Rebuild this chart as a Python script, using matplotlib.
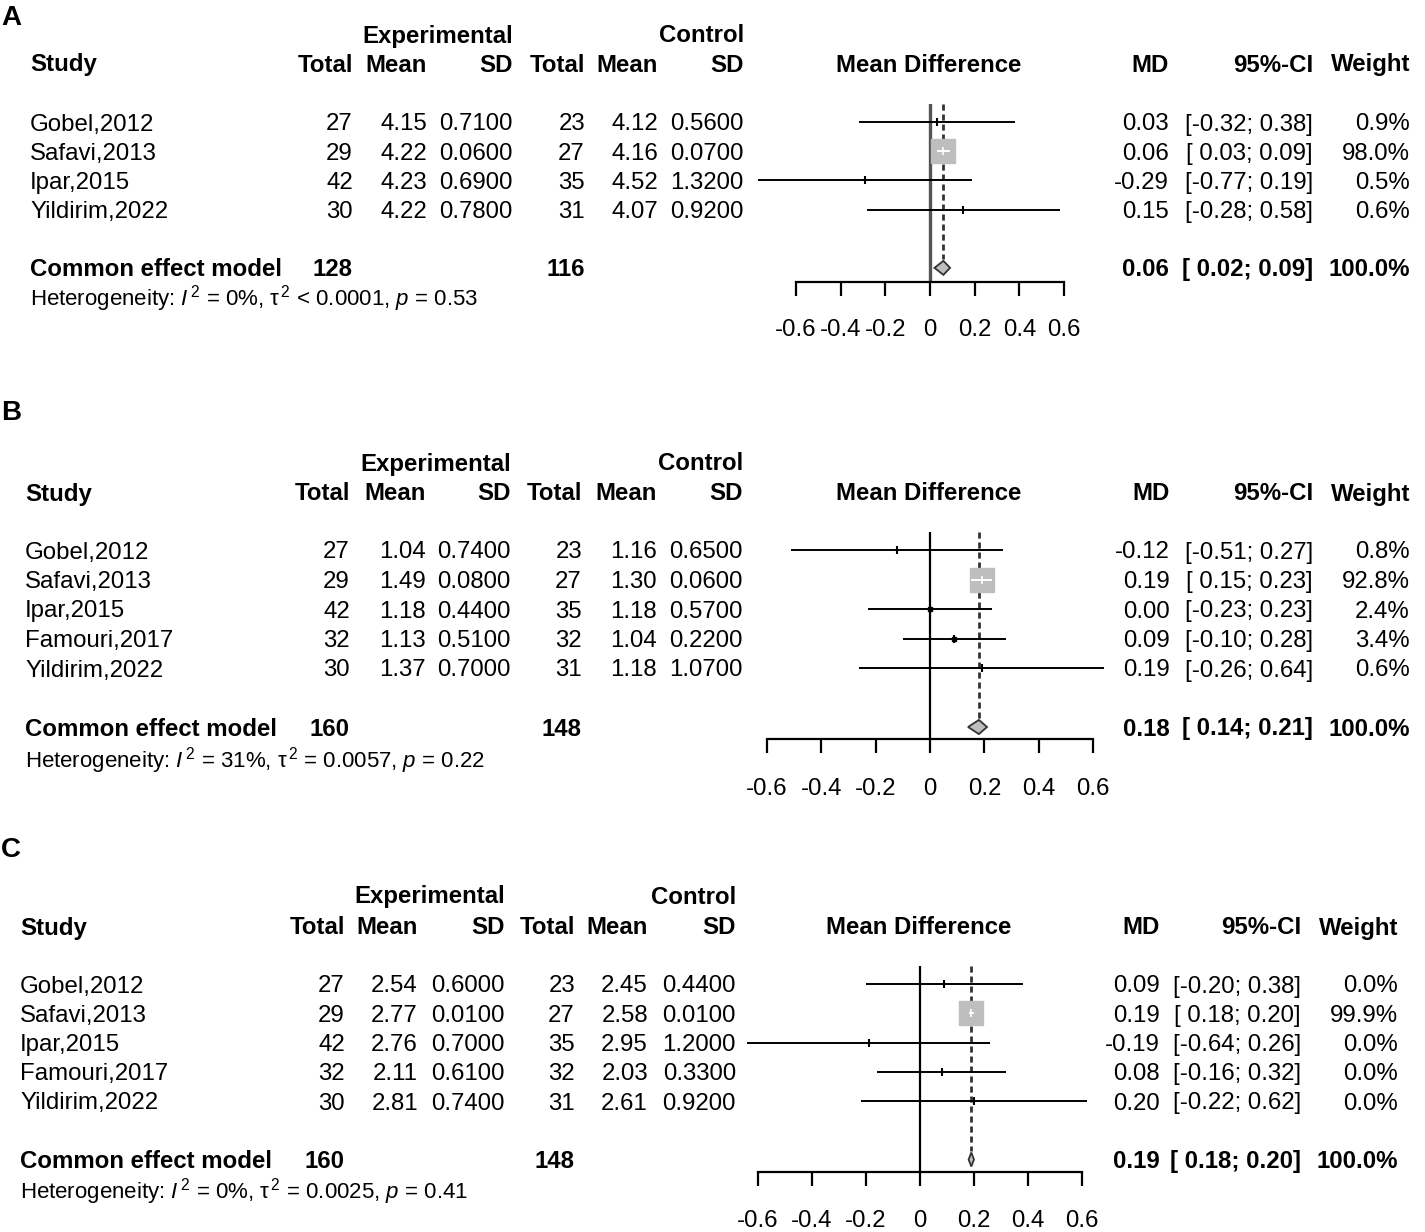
import matplotlib
matplotlib.use('Agg')
import matplotlib.pyplot as plt
from matplotlib.patches import Polygon
import numpy as np

plt.rcParams['font.family'] = ['Liberation Sans', 'DejaVu Sans']
plt.rcParams['axes.unicode_minus'] = False
plt.rcParams['mathtext.fontset'] = 'custom'
plt.rcParams['mathtext.rm'] = 'Liberation Sans'
plt.rcParams['mathtext.it'] = 'Liberation Sans:italic'
plt.rcParams['mathtext.bf'] = 'Liberation Sans:bold'

# ---------------- data ----------------
# Panel A
A_study = ["Gobel,2012", "Safavi,2013", "Ipar,2015", "Yildirim,2022"]
A_exp_n = [27, 29, 42, 30]
A_exp_mean = [4.15, 4.22, 4.23, 4.22]
A_exp_sd = [0.71, 0.06, 0.69, 0.78]
A_ctl_n = [23, 27, 35, 31]
A_ctl_mean = [4.12, 4.16, 4.52, 4.07]
A_ctl_sd = [0.56, 0.07, 1.32, 0.92]
A_md = [0.03, 0.06, -0.29, 0.15]
A_lo = [-0.32, 0.03, -0.77, -0.28]
A_hi = [0.38, 0.09, 0.19, 0.58]
A_w = [0.9, 98.0, 0.5, 0.6]
A_pool = [0.06, 0.02, 0.09]
A_tot = [128, 116]
A_het = ["0%", "<", "0.0001", "0.53"]

# Panel B
B_study = ["Gobel,2012", "Safavi,2013", "Ipar,2015", "Famouri,2017", "Yildirim,2022"]
B_exp_n = [27, 29, 42, 32, 30]
B_exp_mean = [1.04, 1.49, 1.18, 1.13, 1.37]
B_exp_sd = [0.74, 0.08, 0.44, 0.51, 0.70]
B_ctl_n = [23, 27, 35, 32, 31]
B_ctl_mean = [1.16, 1.30, 1.18, 1.04, 1.18]
B_ctl_sd = [0.65, 0.06, 0.57, 0.22, 1.07]
B_md = [-0.12, 0.19, 0.00, 0.09, 0.19]
B_lo = [-0.51, 0.15, -0.23, -0.10, -0.26]
B_hi = [0.27, 0.23, 0.23, 0.28, 0.64]
B_w = [0.8, 92.8, 2.4, 3.4, 0.6]
B_pool = [0.18, 0.14, 0.21]
B_tot = [160, 148]
B_het = ["31%", "=", "0.0057", "0.22"]

# Panel C
C_study = ["Gobel,2012", "Safavi,2013", "Ipar,2015", "Famouri,2017", "Yildirim,2022"]
C_exp_n = [27, 29, 42, 32, 30]
C_exp_mean = [2.54, 2.77, 2.76, 2.11, 2.81]
C_exp_sd = [0.60, 0.01, 0.70, 0.61, 0.74]
C_ctl_n = [23, 27, 35, 32, 31]
C_ctl_mean = [2.45, 2.58, 2.95, 2.03, 2.61]
C_ctl_sd = [0.44, 0.01, 1.20, 0.33, 0.92]
C_md = [0.09, 0.19, -0.19, 0.08, 0.20]
C_lo = [-0.20, 0.18, -0.64, -0.16, -0.22]
C_hi = [0.38, 0.20, 0.26, 0.32, 0.62]
C_w = [0.0, 99.9, 0.0, 0.0, 0.0]
C_pool = [0.19, 0.18, 0.20]
C_tot = [160, 148]
C_het = ["0%", "=", "0.0025", "0.41"]

TICKS = [-0.6, -0.4, -0.2, 0, 0.2, 0.4, 0.6]
TICK_LABELS = ["-0.6", "-0.4", "-0.2", "0", "0.2", "0.4", "0.6"]

PANELS = [
    ("A", A_study, A_exp_n, A_exp_mean, A_exp_sd, A_ctl_n, A_ctl_mean, A_ctl_sd,
     A_md, A_lo, A_hi, A_w, A_pool, A_tot, A_het),
    ("B", B_study, B_exp_n, B_exp_mean, B_exp_sd, B_ctl_n, B_ctl_mean, B_ctl_sd,
     B_md, B_lo, B_hi, B_w, B_pool, B_tot, B_het),
    ("C", C_study, C_exp_n, C_exp_mean, C_exp_sd, C_ctl_n, C_ctl_mean, C_ctl_sd,
     C_md, C_lo, C_hi, C_w, C_pool, C_tot, C_het),
]

# ---------------- layout (pixels) ----------------
LAYOUT = {
    "A": dict(letter_y=15, hdr1=34, hdr2=63, row0=122, dy=29.17, het_dy=30,
              study_x=30, cols=[353, 427, 513, 585, 658, 744], mdhdr_c=929,
              md_x=1169, ci_x=1313, w_x=1410, zero=930, unit=223.3,
              axis_row=1.5, zcol="#555555", zlw=2.4, pad=16),
    "B": dict(letter_y=410, hdr1=462, hdr2=492, row0=550, dy=29.5, het_dy=32,
              study_x=25, cols=[350, 426, 511, 582, 657, 743], mdhdr_c=929,
              md_x=1170, ci_x=1313, w_x=1410, zero=930, unit=271.7,
              axis_row=1.4, zcol="black", zlw=1.6, pad=18.5),
    "C": dict(letter_y=847, hdr1=895, hdr2=926, row0=984, dy=29.25, het_dy=31,
              study_x=20, cols=[345, 418, 505, 575, 648, 736], mdhdr_c=919,
              md_x=1160, ci_x=1301, w_x=1398, zero=920, unit=270.0,
              axis_row=1.43, zcol="black", zlw=1.6, pad=17),
}

W, H = 1425, 1232
FS = 17.3
BASE = 8.5  # half cap height in px -> baseline offset

fig = plt.figure(figsize=(W / 100, H / 100), dpi=100)
T = fig.add_axes([0, 0, 1, 1])
T.set_xlim(0, W)
T.set_ylim(H, 0)
T.axis("off")


def txt(x, y, s, ha="left", bold=False, size=FS):
    T.text(x, y + BASE, s, ha=ha, va="baseline", fontsize=size,
           fontweight="bold" if bold else "normal", color="black")


def ci_str(lo, hi):
    a = f"{lo:.2f}" if lo < 0 else f" {lo:.2f}"
    return f"[{a}; {hi:.2f}]"


for (name, study, en, em, esd, cn, cm, csd, md, lo, hi, w, pool, tot, het) in PANELS:
    L = LAYOUT[name]
    n = len(study)
    c = L["cols"]
    # panel letter
    T.text(1, L["letter_y"] + 10, name, ha="left", va="baseline",
           fontsize=20, fontweight="bold")
    # headers
    txt(c[2], L["hdr1"], "Experimental", ha="right", bold=True)
    txt(c[5], L["hdr1"], "Control", ha="right", bold=True)
    y2 = L["hdr2"]
    txt(L["study_x"], y2, "Study", bold=True)
    for x, s in zip(c, ["Total", "Mean", "SD", "Total", "Mean", "SD"]):
        txt(x, y2, s, ha="right", bold=True)
    txt(L["mdhdr_c"], y2, "Mean Difference", ha="center", bold=True)
    txt(L["md_x"], y2, "MD", ha="right", bold=True)
    txt(L["ci_x"], y2, "95%-CI", ha="right", bold=True)
    txt(L["w_x"], y2, "Weight", ha="right", bold=True)
    # study rows
    for i in range(n):
        y = L["row0"] + i * L["dy"]
        txt(L["study_x"], y, study[i])
        vals = [f"{en[i]}", f"{em[i]:.2f}", f"{esd[i]:.4f}",
                f"{cn[i]}", f"{cm[i]:.2f}", f"{csd[i]:.4f}"]
        for x, s in zip(c, vals):
            txt(x, y, s, ha="right")
        txt(L["md_x"], y, f"{md[i]:.2f}", ha="right")
        txt(L["ci_x"], y, ci_str(lo[i], hi[i]), ha="right")
        txt(L["w_x"], y, f"{w[i]:.1f}%", ha="right")
    # summary row
    ys = L["row0"] + (n + 1) * L["dy"]
    txt(L["study_x"], ys, "Common effect model", bold=True)
    txt(c[0], ys, f"{tot[0]}", ha="right", bold=True)
    txt(c[3], ys, f"{tot[1]}", ha="right", bold=True)
    txt(L["md_x"], ys, f"{pool[0]:.2f}", ha="right", bold=True)
    txt(L["ci_x"], ys, ci_str(pool[1], pool[2]), ha="right", bold=True)
    txt(L["w_x"], ys, "100.0%", ha="right", bold=True)
    # heterogeneity
    yh = ys + L["het_dy"]
    het_s = (r"Heterogeneity: $\mathit{I}^{\,2}$ = " + het[0]
             + ", \u03c4" + r"$^{\,2}$ " + het[1] + " " + het[2]
             + r", $\mathit{p}$ = " + het[3])
    T.text(L["study_x"], yh + 8, het_s, ha="left", va="baseline", fontsize=16)

    # forest axes
    left_px, right_px = 735, 1118
    top_row, bot_row = -0.6, n + L["axis_row"]
    top_px = L["row0"] + top_row * L["dy"]
    bot_px = L["row0"] + bot_row * L["dy"]
    ax = fig.add_axes([left_px / W, 1 - bot_px / H,
                       (right_px - left_px) / W, (bot_px - top_px) / H])
    ax.set_xlim((left_px - L["zero"]) / L["unit"], (right_px - L["zero"]) / L["unit"])
    ax.set_ylim(bot_row, top_row)
    ax.patch.set_alpha(0)
    for s in ["top", "left", "right"]:
        ax.spines[s].set_visible(False)
    ax.spines["bottom"].set_bounds(-0.6, 0.6)
    ax.spines["bottom"].set_linewidth(1.6)
    ax.set_yticks([])
    ax.set_xticks(TICKS)
    ax.set_xticklabels(TICK_LABELS)
    ax.tick_params(axis="x", direction="out", length=10, width=1.6,
                   pad=L["pad"], labelsize=FS)

    # zero line and pooled line
    ax.plot([0, 0], [top_row, bot_row], color=L["zcol"], lw=L["zlw"], zorder=2)
    dh = 0.24
    pl = ax.plot([pool[0], pool[0]], [top_row, n + 1 - dh - 0.05],
                 color="#333333", lw=2.0, zorder=2)[0]
    pl.set_dashes([2.2, 1.4])

    for i in range(n):
        ax.plot([lo[i], hi[i]], [i, i], color="black", lw=1.4,
                solid_capstyle="butt", zorder=3)
        size = 18.0 * np.sqrt(w[i] / 100.0)
        if size > 8:
            ax.plot(md[i], i, marker="s", ms=size, mfc="#bebebe",
                    mec="#bebebe", zorder=4, linestyle="none")
            ax.plot([lo[i], hi[i]], [i, i], color="white", lw=1.4,
                    solid_capstyle="butt", zorder=5)
            ax.plot(md[i], i, marker="|", ms=6, mew=1.2, color="white",
                    zorder=5, linestyle="none")
        else:
            if size > 2.5:
                ax.plot(md[i], i, marker="s", ms=size, mfc="black",
                        mec="black", zorder=4, linestyle="none")
            ax.plot(md[i], i, marker="|", ms=5.5, mew=1.5, color="black",
                    zorder=4, linestyle="none")

    ysum = n + 1
    dia = Polygon([[pool[1], ysum], [pool[0], ysum - dh],
                   [pool[2], ysum], [pool[0], ysum + dh]],
                  closed=True, fc="#bebebe", ec="#333333", lw=1.3, zorder=5)
    ax.add_patch(dia)

fig.savefig("out.png", dpi=100)
